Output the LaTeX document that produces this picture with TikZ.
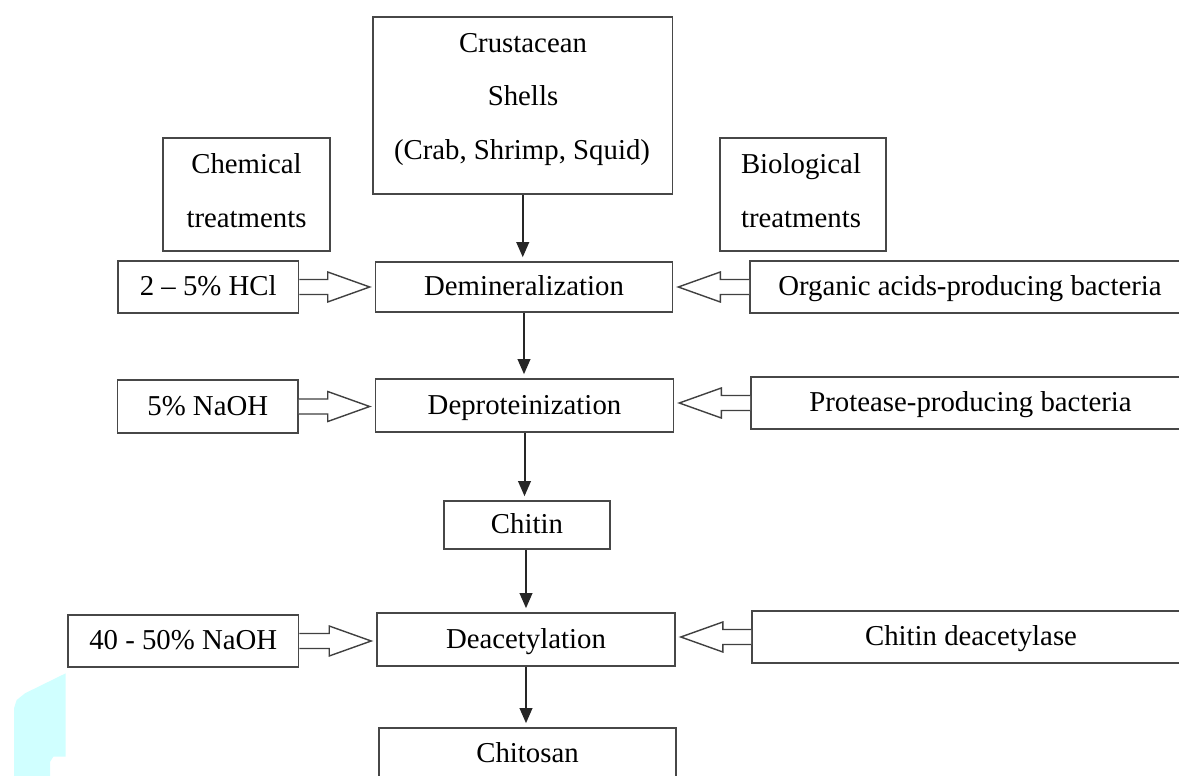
\documentclass[tikz,border=0pt]{standalone}
\usepackage{fontspec}
\setmainfont{Liberation Serif}
\usetikzlibrary{arrows.meta,calc}
\definecolor{boxline}{gray}{0.28}
\definecolor{patch}{RGB}{208,255,255}
\tikzset{
  box/.style={draw=boxline, line width=1.6pt, rectangle, inner sep=0pt,
    text height=19pt, text depth=2pt, align=center},
  lbl/.style={inner sep=0pt, anchor=base},
  varrow/.style={draw=black!85, line width=2pt, shorten >=4pt,
    -{Triangle[length=15pt,width=12.5pt]}},
  harrow/.style={draw=black!75, line width=1.4pt, fill=white, line join=miter}
}
\newcommand\hollowright[2]{%
  \draw[harrow] let \p1=(#1.east), \p2=(#2.west) in
    (\x1,\y1+7.5pt) -- (\x2-47pt,\y1+7.5pt) -- (\x2-47pt,\y1+15pt) --
    (\x2-5pt,\y1) -- (\x2-47pt,\y1-15pt) -- (\x2-47pt,\y1-7.5pt) -- (\x1,\y1-7.5pt);}
\newcommand\hollowleft[2]{%
  \draw[harrow] let \p1=(#1.west), \p2=(#2.east) in
    (\x1,\y1+7.5pt) -- (\x2+47pt,\y1+7.5pt) -- (\x2+47pt,\y1+15pt) --
    (\x2+5pt,\y1) -- (\x2+47pt,\y1-15pt) -- (\x2+47pt,\y1-7.5pt) -- (\x1,\y1-7.5pt);}
\begin{document}
\begin{tikzpicture}[x=1pt,y=-1pt, font=\fontsize{28.8}{34}\selectfont]
\useasboundingbox (0,0) rectangle (1179,776);
\clip (0,0) rectangle (1179,776);
\fill[white] (0,0) rectangle (1179,776);
% cyan artefact
\fill[patch] (65.7,673.3) -- (25,693.3) -- (16.7,700) -- (14,708.3) -- (14,776)
  -- (50,776) -- (50,762) -- (53.3,756.7) -- (65.7,756.7) -- cycle;
% boxes
\node[box, minimum width=299.5pt, minimum height=177pt] (shells) at (522.75,105.5) {};
\node[lbl] (shells1) at (523,52.5) {Crustacean};
\node[lbl] (shells2) at (523,106) {Shells};
\node[lbl] (shells3) at (522,159.5) {(Crab, Shrimp, Squid)};
\node[box, minimum width=167pt, minimum height=113pt] (chem) at (246.5,194.5) {};
\node[lbl] (chem1) at (246.5,173) {Chemical};
\node[lbl] (chem2) at (246.5,227) {treatments};
\node[box, minimum width=166pt, minimum height=113pt] (bio) at (803,194.5) {};
\node[lbl] (bio1) at (801,173) {Biological};
\node[lbl] (bio2) at (801,227) {treatments};
\node[box, minimum width=180.5pt, minimum height=52pt] (hcl) at (208.25,287) {2 -- 5\% HCl};
\node[box, minimum width=297pt, minimum height=50pt] (demin) at (524,287) {Demineralization};
\node[box, minimum width=440pt, minimum height=52pt] (org) at (970,287) {Organic acids-producing bacteria};
\node[box, minimum width=180.5pt, minimum height=53pt] (naoh) at (207.75,406.5) {5\% NaOH};
\node[box, minimum width=298pt, minimum height=53pt] (deprot) at (524.5,405.5) {Deproteinization};
\node[box, minimum width=439pt, minimum height=52pt] (prot) at (970.5,403) {Protease-producing bacteria};
\node[box, minimum width=166pt, minimum height=48pt] (chitin) at (527,525) {Chitin};
\node[box, minimum width=230.5pt, minimum height=52pt] (naohb) at (183.25,641) {40 - 50\% NaOH};
\node[box, minimum width=298pt, minimum height=53pt] (deacet) at (526,639.5) {Deacetylation};
\node[box, minimum width=438pt, minimum height=52pt] (chdeac) at (971,637) {Chitin deacetylase};
\node[box, minimum width=297pt, minimum height=52pt] (chitosan) at (527.5,754) {Chitosan};
% vertical arrows
\draw[varrow] (shells.south) -- (shells.south |- demin.north);
\draw[varrow] (demin.south) -- (demin.south |- deprot.north);
\draw[varrow] (deprot.south) -- (deprot.south |- chitin.north);
\draw[varrow] (deacet.north |- chitin.south) -- (deacet.north);
\draw[varrow] (deacet.south) -- (deacet.south |- chitosan.north);
% hollow arrows
\hollowright{hcl}{demin}
\hollowright{naoh}{deprot}
\hollowright{naohb}{deacet}
\hollowleft{org}{demin}
\hollowleft{prot}{deprot}
\hollowleft{chdeac}{deacet}
\end{tikzpicture}
\end{document}
